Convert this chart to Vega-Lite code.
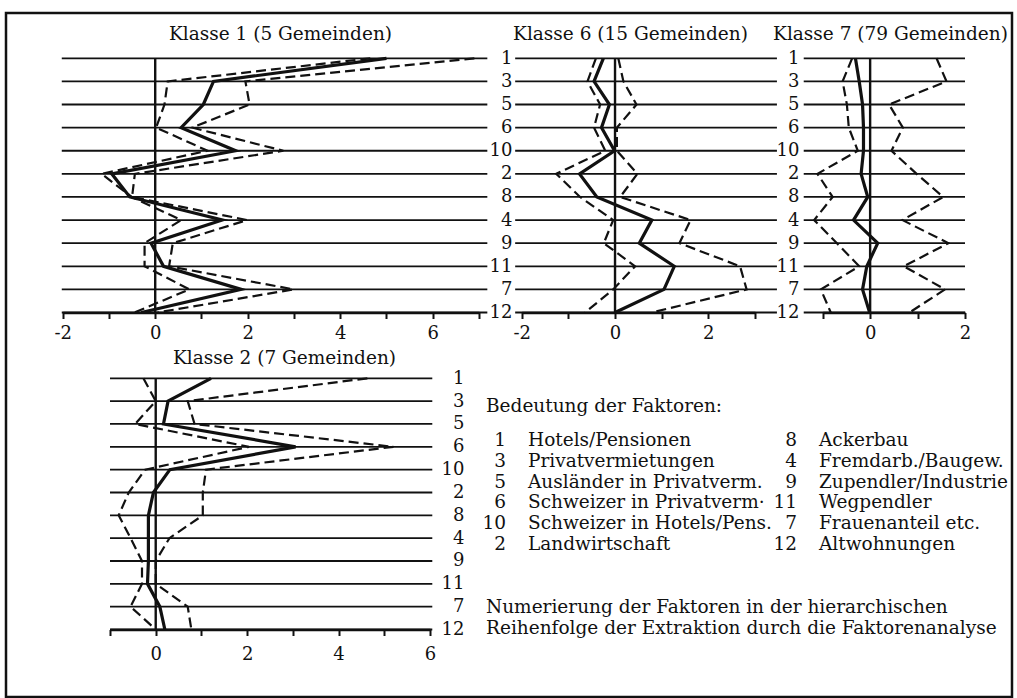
{
  "$schema": "https://vega.github.io/schema/vega-lite/v6.json",
  "width": 1006,
  "height": 684,
  "autosize": {"type": "none"},
  "padding": {"left": 6, "top": 13, "right": 5, "bottom": 1},
  "background": "white",
  "config": {
    "font": "DejaVu Serif",
    "view": {"stroke": "#111", "strokeWidth": 2.5},
    "axis": {
      "labelFont": "DejaVu Serif", "labelFontSize": 18, "labelColor": "#111",
      "titleFont": "DejaVu Serif", "titleFontSize": 18.5, "titleFontWeight": "normal", "titleColor": "#111",
      "domainColor": "#111", "domainWidth": 2.5, "tickColor": "#111", "tickWidth": 2, "tickSize": 6,
      "labelOverlap": false, "labelFlush": false, "labelBound": false, "grid": false
    },
    "text": {"font": "DejaVu Serif", "fontSize": 18.5, "color": "#111"}
  },
  "datasets": {
    "k1": [
      {"f":"1","i":1,"s":"m","v":5.0},{"f":"3","i":2,"s":"m","v":1.26},{"f":"5","i":3,"s":"m","v":1.04},{"f":"6","i":4,"s":"m","v":0.56},
      {"f":"10","i":5,"s":"m","v":1.74},{"f":"2","i":6,"s":"m","v":-0.94},{"f":"8","i":7,"s":"m","v":-0.55},{"f":"4","i":8,"s":"m","v":1.45},
      {"f":"9","i":9,"s":"m","v":-0.09},{"f":"11","i":10,"s":"m","v":0.18},{"f":"7","i":11,"s":"m","v":1.86},{"f":"12","i":12,"s":"m","v":-0.3},
      {"f":"1","i":1,"s":"lo","v":4.65},{"f":"3","i":2,"s":"lo","v":0.27},{"f":"5","i":3,"s":"lo","v":0.2},{"f":"6","i":4,"s":"lo","v":0.02},
      {"f":"10","i":5,"s":"lo","v":1.13},{"f":"2","i":6,"s":"lo","v":-1.16},{"f":"8","i":7,"s":"lo","v":-0.51},{"f":"4","i":8,"s":"lo","v":0.56},
      {"f":"9","i":9,"s":"lo","v":-0.23},{"f":"11","i":10,"s":"lo","v":-0.23},{"f":"7","i":11,"s":"lo","v":0.74},{"f":"12","i":12,"s":"lo","v":-0.45},
      {"f":"1","i":1,"s":"hi","v":6.9},{"f":"3","i":2,"s":"hi","v":1.95},{"f":"5","i":3,"s":"hi","v":2.04},{"f":"6","i":4,"s":"hi","v":0.8},
      {"f":"10","i":5,"s":"hi","v":2.77},{"f":"2","i":6,"s":"hi","v":-0.44},{"f":"8","i":7,"s":"hi","v":-0.5},{"f":"4","i":8,"s":"hi","v":1.99},
      {"f":"9","i":9,"s":"hi","v":0.38},{"f":"11","i":10,"s":"hi","v":0.3},{"f":"7","i":11,"s":"hi","v":2.99},{"f":"12","i":12,"s":"hi","v":0.05}
    ],
    "k6": [
      {"f":"1","i":1,"s":"m","v":-0.25},{"f":"3","i":2,"s":"m","v":-0.45},{"f":"5","i":3,"s":"m","v":-0.12},{"f":"6","i":4,"s":"m","v":-0.29},
      {"f":"10","i":5,"s":"m","v":-0.01},{"f":"2","i":6,"s":"m","v":-0.76},{"f":"8","i":7,"s":"m","v":-0.39},{"f":"4","i":8,"s":"m","v":0.79},
      {"f":"9","i":9,"s":"m","v":0.52},{"f":"11","i":10,"s":"m","v":1.27},{"f":"7","i":11,"s":"m","v":1.05},{"f":"12","i":12,"s":"m","v":0.0},
      {"f":"1","i":1,"s":"lo","v":-0.41},{"f":"3","i":2,"s":"lo","v":-0.59},{"f":"5","i":3,"s":"lo","v":-0.32},{"f":"6","i":4,"s":"lo","v":-0.45},
      {"f":"10","i":5,"s":"lo","v":-0.21},{"f":"2","i":6,"s":"lo","v":-1.26},{"f":"8","i":7,"s":"lo","v":-0.75},{"f":"4","i":8,"s":"lo","v":-0.04},
      {"f":"9","i":9,"s":"lo","v":-0.24},{"f":"11","i":10,"s":"lo","v":0.43},{"f":"7","i":11,"s":"lo","v":-0.04},{"f":"12","i":12,"s":"lo","v":-0.64},
      {"f":"1","i":1,"s":"hi","v":0.07},{"f":"3","i":2,"s":"hi","v":0.18},{"f":"5","i":3,"s":"hi","v":0.46},{"f":"6","i":4,"s":"hi","v":0.04},
      {"f":"10","i":5,"s":"hi","v":0.04},{"f":"2","i":6,"s":"hi","v":0.48},{"f":"8","i":7,"s":"hi","v":0.11},{"f":"4","i":8,"s":"hi","v":1.62},
      {"f":"9","i":9,"s":"hi","v":1.38},{"f":"11","i":10,"s":"hi","v":2.68},{"f":"7","i":11,"s":"hi","v":2.82},{"f":"12","i":12,"s":"hi","v":0.79}
    ],
    "k7": [
      {"f":"1","i":1,"s":"m","v":-0.31},{"f":"3","i":2,"s":"m","v":-0.23},{"f":"5","i":3,"s":"m","v":-0.16},{"f":"6","i":4,"s":"m","v":-0.14},
      {"f":"10","i":5,"s":"m","v":-0.14},{"f":"2","i":6,"s":"m","v":-0.19},{"f":"8","i":7,"s":"m","v":-0.05},{"f":"4","i":8,"s":"m","v":-0.35},
      {"f":"9","i":9,"s":"m","v":0.16},{"f":"11","i":10,"s":"m","v":-0.07},{"f":"7","i":11,"s":"m","v":-0.16},{"f":"12","i":12,"s":"m","v":-0.01},
      {"f":"1","i":1,"s":"lo","v":-0.38},{"f":"3","i":2,"s":"lo","v":-0.58},{"f":"5","i":3,"s":"lo","v":-0.49},{"f":"6","i":4,"s":"lo","v":-0.45},
      {"f":"10","i":5,"s":"lo","v":-0.26},{"f":"2","i":6,"s":"lo","v":-1.11},{"f":"8","i":7,"s":"lo","v":-0.79},{"f":"4","i":8,"s":"lo","v":-1.18},
      {"f":"9","i":9,"s":"lo","v":-0.7},{"f":"11","i":10,"s":"lo","v":-0.23},{"f":"7","i":11,"s":"lo","v":-1.04},{"f":"12","i":12,"s":"lo","v":-0.83},
      {"f":"1","i":1,"s":"hi","v":1.4},{"f":"3","i":2,"s":"hi","v":1.61},{"f":"5","i":3,"s":"hi","v":0.4},{"f":"6","i":4,"s":"hi","v":0.69},
      {"f":"10","i":5,"s":"hi","v":0.45},{"f":"2","i":6,"s":"hi","v":0.98},{"f":"8","i":7,"s":"hi","v":1.54},{"f":"4","i":8,"s":"hi","v":0.68},
      {"f":"9","i":9,"s":"hi","v":1.65},{"f":"11","i":10,"s":"hi","v":0.71},{"f":"7","i":11,"s":"hi","v":1.58},{"f":"12","i":12,"s":"hi","v":0.83}
    ],
    "k2": [
      {"f":"1","i":1,"s":"m","v":1.21},{"f":"3","i":2,"s":"m","v":0.27},{"f":"5","i":3,"s":"m","v":0.17},{"f":"6","i":4,"s":"m","v":3.06},
      {"f":"10","i":5,"s":"m","v":0.31},{"f":"2","i":6,"s":"m","v":-0.05},{"f":"8","i":7,"s":"m","v":-0.16},{"f":"4","i":8,"s":"m","v":-0.16},
      {"f":"9","i":9,"s":"m","v":-0.16},{"f":"11","i":10,"s":"m","v":-0.18},{"f":"7","i":11,"s":"m","v":0.09},{"f":"12","i":12,"s":"m","v":0.2},
      {"f":"1","i":1,"s":"lo","v":-0.27},{"f":"3","i":2,"s":"lo","v":0.0},{"f":"5","i":3,"s":"lo","v":-0.45},{"f":"6","i":4,"s":"lo","v":2.04},
      {"f":"10","i":5,"s":"lo","v":-0.23},{"f":"2","i":6,"s":"lo","v":-0.59},{"f":"8","i":7,"s":"lo","v":-0.81},{"f":"4","i":8,"s":"lo","v":-0.55},
      {"f":"9","i":9,"s":"lo","v":-0.3},{"f":"11","i":10,"s":"lo","v":-0.3},{"f":"7","i":11,"s":"lo","v":-0.55},{"f":"12","i":12,"s":"lo","v":0.0},
      {"f":"1","i":1,"s":"hi","v":4.63},{"f":"3","i":2,"s":"hi","v":0.7},{"f":"5","i":3,"s":"hi","v":0.85},{"f":"6","i":4,"s":"hi","v":5.2},
      {"f":"10","i":5,"s":"hi","v":1.1},{"f":"2","i":6,"s":"hi","v":1.03},{"f":"8","i":7,"s":"hi","v":1.03},{"f":"4","i":8,"s":"hi","v":0.3},
      {"f":"9","i":9,"s":"hi","v":0.0},{"f":"11","i":10,"s":"hi","v":0.0},{"f":"7","i":11,"s":"hi","v":0.7},{"f":"12","i":12,"s":"hi","v":0.78}
    ],
    "key": [
      {"c":"1","r":"1","n":"1","t":"Hotels/Pensionen"},
      {"c":"1","r":"2","n":"3","t":"Privatvermietungen"},
      {"c":"1","r":"3","n":"5","t":"Ausländer in Privatverm."},
      {"c":"1","r":"4","n":"6","t":"Schweizer in Privatverm·"},
      {"c":"1","r":"5","n":"10","t":"Schweizer in Hotels/Pens."},
      {"c":"1","r":"6","n":"2","t":"Landwirtschaft"},
      {"c":"2","r":"1","n":"8","t":"Ackerbau"},
      {"c":"2","r":"2","n":"4","t":"Fremdarb./Baugew."},
      {"c":"2","r":"3","n":"9","t":"Zupendler/Industrie"},
      {"c":"2","r":"4","n":"11","t":"Wegpendler"},
      {"c":"2","r":"5","n":"7","t":"Frauenanteil etc."},
      {"c":"2","r":"6","n":"12","t":"Altwohnungen"}
    ]
  },
  "layer": [
    {
      "data": {"name": "k1"},
      "encoding": {
        "x": {"field": "v", "type": "quantitative",
          "scale": {"domain": [-2, 7], "range": [56.7, 473], "nice": false, "zero": false},
          "axis": {"orient": "bottom", "offset": -384.5, "values": [-2,-1,0,1,2,3,4,5,6,7], "labelPadding": 6,
            "labelExpr": "datum.value % 2 === 0 ? '' + datum.value : ''",
            "title": "Klasse 1 (5 Gemeinden)", "titleX": 274, "titleY": -273.5, "titleAlign": "center", "titleBaseline": "alphabetic"}},
        "y": {"field": "f", "type": "ordinal",
          "scale": {"type": "point", "domain": ["1","3","5","6","10","2","8","4","9","11","7","12"], "range": [45.3, 299.5], "padding": 0},
          "axis": null}
      },
      "layer": [
        {"transform": [{"filter": "datum.s === 'm'"}], "mark": {"type": "rule", "stroke": "#111", "strokeWidth": 1.8},
          "encoding": {"x": {"datum": -2.02, "type": "quantitative",
            "axis": {"orient": "bottom", "offset": -384.5, "values": [-2,-1,0,1,2,3,4,5,6,7], "labelPadding": 6,
              "labelExpr": "datum.value % 2 === 0 ? '' + datum.value : ''",
              "title": "Klasse 1 (5 Gemeinden)", "titleX": 274, "titleY": -273.5, "titleAlign": "center", "titleBaseline": "alphabetic"}},
            "x2": {"datum": 7.18}}},
        {"transform": [{"filter": "datum.s === 'm' && datum.f === '1'"}], "mark": {"type": "rule", "stroke": "#111", "strokeWidth": 2.4},
          "encoding": {"x": {"datum": 0, "type": "quantitative",
            "axis": {"orient": "bottom", "offset": -384.5, "values": [-2,-1,0,1,2,3,4,5,6,7], "labelPadding": 6,
              "labelExpr": "datum.value % 2 === 0 ? '' + datum.value : ''",
              "title": "Klasse 1 (5 Gemeinden)", "titleX": 274, "titleY": -273.5, "titleAlign": "center", "titleBaseline": "alphabetic"}},
            "y": {"datum": "1", "type": "ordinal", "axis": null}, "y2": {"datum": "12"}}},
        {"transform": [{"filter": "datum.s !== 'm'"}], "mark": {"type": "line", "stroke": "#111", "strokeWidth": 2.2, "strokeDash": [10, 5]},
          "encoding": {"detail": {"field": "s"}, "order": {"field": "i", "type": "quantitative"}}},
        {"transform": [{"filter": "datum.s === 'm'"}], "mark": {"type": "line", "stroke": "#111", "strokeWidth": 3.2},
          "encoding": {"order": {"field": "i", "type": "quantitative"}}}
      ]
    },
    {
      "data": {"name": "k6"},
      "encoding": {
        "x": {"field": "v", "type": "quantitative",
          "scale": {"domain": [-2, 3], "range": [515.7, 749], "nice": false, "zero": false},
          "axis": {"orient": "bottom", "offset": -384.5, "values": [-2,-1,0,1,2,3], "labelPadding": 6,
            "labelExpr": "datum.value % 2 === 0 ? '' + datum.value : ''",
            "title": "Klasse 6 (15 Gemeinden)", "titleX": 624, "titleY": -273.5, "titleAlign": "center", "titleBaseline": "alphabetic"}},
        "y": {"field": "f", "type": "ordinal",
          "scale": {"type": "point", "domain": ["1","3","5","6","10","2","8","4","9","11","7","12"], "range": [45.3, 299.5], "padding": 0},
          "axis": {"orient": "left", "offset": -506, "ticks": false, "tickSize": 0, "domain": false, "labelPadding": 0, "labelAlign": "right", "title": null}}
      },
      "layer": [
        {"transform": [{"filter": "datum.s === 'm'"}], "mark": {"type": "rule", "stroke": "#111", "strokeWidth": 1.8},
          "encoding": {"x": {"datum": -2.14, "type": "quantitative",
            "axis": {"orient": "bottom", "offset": -384.5, "values": [-2,-1,0,1,2,3], "labelPadding": 6,
              "labelExpr": "datum.value % 2 === 0 ? '' + datum.value : ''",
              "title": "Klasse 6 (15 Gemeinden)", "titleX": 624, "titleY": -273.5, "titleAlign": "center", "titleBaseline": "alphabetic"}},
            "x2": {"datum": 3.47}}},
        {"transform": [{"filter": "datum.s === 'm' && datum.f === '1'"}], "mark": {"type": "rule", "stroke": "#111", "strokeWidth": 2.4},
          "encoding": {"x": {"datum": 0, "type": "quantitative",
            "axis": {"orient": "bottom", "offset": -384.5, "values": [-2,-1,0,1,2,3], "labelPadding": 6,
              "labelExpr": "datum.value % 2 === 0 ? '' + datum.value : ''",
              "title": "Klasse 6 (15 Gemeinden)", "titleX": 624, "titleY": -273.5, "titleAlign": "center", "titleBaseline": "alphabetic"}},
            "y": {"datum": "1", "type": "ordinal",
              "axis": {"orient": "left", "offset": -506, "ticks": false, "tickSize": 0, "domain": false, "labelPadding": 0, "labelAlign": "right", "title": null}},
            "y2": {"datum": "12"}}},
        {"transform": [{"filter": "datum.s !== 'm'"}], "mark": {"type": "line", "stroke": "#111", "strokeWidth": 2.2, "strokeDash": [10, 5]},
          "encoding": {"detail": {"field": "s"}, "order": {"field": "i", "type": "quantitative"}}},
        {"transform": [{"filter": "datum.s === 'm'"}], "mark": {"type": "line", "stroke": "#111", "strokeWidth": 3.2},
          "encoding": {"order": {"field": "i", "type": "quantitative"}}}
      ]
    },
    {
      "data": {"name": "k7"},
      "encoding": {
        "x": {"field": "v", "type": "quantitative",
          "scale": {"domain": [-1, 2], "range": [816.7, 959], "nice": false, "zero": false},
          "axis": {"orient": "bottom", "offset": -384.5, "values": [-1,0,1,2], "labelPadding": 6,
            "labelExpr": "datum.value % 2 === 0 ? '' + datum.value : ''",
            "title": "Klasse 7 (79 Gemeinden)", "titleX": 884, "titleY": -273.5, "titleAlign": "center", "titleBaseline": "alphabetic"}},
        "y": {"field": "f", "type": "ordinal",
          "scale": {"type": "point", "domain": ["1","3","5","6","10","2","8","4","9","11","7","12"], "range": [45.3, 299.5], "padding": 0},
          "axis": {"orient": "left", "offset": -793, "ticks": false, "tickSize": 0, "domain": false, "labelPadding": 0, "labelAlign": "right", "title": null}}
      },
      "layer": [
        {"transform": [{"filter": "datum.s === 'm'"}], "mark": {"type": "rule", "stroke": "#111", "strokeWidth": 1.8},
          "encoding": {"x": {"datum": -1.4, "type": "quantitative",
            "axis": {"orient": "bottom", "offset": -384.5, "values": [-1,0,1,2], "labelPadding": 6,
              "labelExpr": "datum.value % 2 === 0 ? '' + datum.value : ''",
              "title": "Klasse 7 (79 Gemeinden)", "titleX": 884, "titleY": -273.5, "titleAlign": "center", "titleBaseline": "alphabetic"}},
            "x2": {"datum": 2.0}}},
        {"transform": [{"filter": "datum.s === 'm' && datum.f === '1'"}], "mark": {"type": "rule", "stroke": "#111", "strokeWidth": 2.4},
          "encoding": {"x": {"datum": 0, "type": "quantitative",
            "axis": {"orient": "bottom", "offset": -384.5, "values": [-1,0,1,2], "labelPadding": 6,
              "labelExpr": "datum.value % 2 === 0 ? '' + datum.value : ''",
              "title": "Klasse 7 (79 Gemeinden)", "titleX": 884, "titleY": -273.5, "titleAlign": "center", "titleBaseline": "alphabetic"}},
            "y": {"datum": "1", "type": "ordinal",
              "axis": {"orient": "left", "offset": -793, "ticks": false, "tickSize": 0, "domain": false, "labelPadding": 0, "labelAlign": "right", "title": null}},
            "y2": {"datum": "12"}}},
        {"transform": [{"filter": "datum.s !== 'm'"}], "mark": {"type": "line", "stroke": "#111", "strokeWidth": 2.2, "strokeDash": [10, 5]},
          "encoding": {"detail": {"field": "s"}, "order": {"field": "i", "type": "quantitative"}}},
        {"transform": [{"filter": "datum.s === 'm'"}], "mark": {"type": "line", "stroke": "#111", "strokeWidth": 3.2},
          "encoding": {"order": {"field": "i", "type": "quantitative"}}}
      ]
    },
    {
      "data": {"name": "k2"},
      "encoding": {
        "x": {"field": "v", "type": "quantitative",
          "scale": {"domain": [-1, 6], "range": [104, 424], "nice": false, "zero": false},
          "axis": {"orient": "bottom", "offset": -67.5, "values": [-1,0,1,2,3,4,5,6], "labelPadding": 10,
            "labelExpr": "datum.value % 2 === 0 ? '' + datum.value : ''",
            "title": "Klasse 2 (7 Gemeinden)", "titleX": 278, "titleY": -266.2, "titleAlign": "center", "titleBaseline": "alphabetic"}},
        "y": {"field": "f", "type": "ordinal",
          "scale": {"type": "point", "domain": ["1","3","5","6","10","2","8","4","9","11","7","12"], "range": [365.3, 616.5], "padding": 0},
          "axis": {"orient": "right", "offset": -548, "ticks": false, "tickSize": 0, "domain": false, "labelPadding": 0, "labelAlign": "right", "title": null}}
      },
      "layer": [
        {"transform": [{"filter": "datum.s === 'm'"}], "mark": {"type": "rule", "stroke": "#111", "strokeWidth": 1.8},
          "encoding": {"x": {"datum": -1.0, "type": "quantitative",
            "axis": {"orient": "bottom", "offset": -67.5, "values": [-1,0,1,2,3,4,5,6], "labelPadding": 10,
              "labelExpr": "datum.value % 2 === 0 ? '' + datum.value : ''",
              "title": "Klasse 2 (7 Gemeinden)", "titleX": 278, "titleY": -266.2, "titleAlign": "center", "titleBaseline": "alphabetic"}},
            "x2": {"datum": 6.05}}},
        {"transform": [{"filter": "datum.s === 'm' && datum.f === '1'"}], "mark": {"type": "rule", "stroke": "#111", "strokeWidth": 2.4},
          "encoding": {"x": {"datum": 0, "type": "quantitative",
            "axis": {"orient": "bottom", "offset": -67.5, "values": [-1,0,1,2,3,4,5,6], "labelPadding": 10,
              "labelExpr": "datum.value % 2 === 0 ? '' + datum.value : ''",
              "title": "Klasse 2 (7 Gemeinden)", "titleX": 278, "titleY": -266.2, "titleAlign": "center", "titleBaseline": "alphabetic"}},
            "y": {"datum": "1", "type": "ordinal",
              "axis": {"orient": "right", "offset": -548, "ticks": false, "tickSize": 0, "domain": false, "labelPadding": 0, "labelAlign": "right", "title": null}},
            "y2": {"datum": "12"}}},
        {"transform": [{"filter": "datum.s !== 'm'"}], "mark": {"type": "line", "stroke": "#111", "strokeWidth": 2.2, "strokeDash": [10, 5]},
          "encoding": {"detail": {"field": "s"}, "order": {"field": "i", "type": "quantitative"}}},
        {"transform": [{"filter": "datum.s === 'm'"}], "mark": {"type": "line", "stroke": "#111", "strokeWidth": 3.2},
          "encoding": {"order": {"field": "i", "type": "quantitative"}}}
      ]
    },
    {
      "data": {"name": "key"},
      "encoding": {
        "x": {"field": "c", "type": "ordinal",
          "scale": {"type": "point", "domain": ["1","2"], "range": [500, 791], "padding": 0},
          "axis": {"orient": "bottom", "offset": 0, "labels": false, "ticks": false, "domain": false,
            "title": ["Numerierung der Faktoren in der hierarchischen", "Reihenfolge der Extraktion durch die Faktorenanalyse"],
            "titleX": 479.5, "titleY": -84.5, "titleAlign": "left", "titleBaseline": "alphabetic", "titleLineHeight": 20.8, "titleAngle": 0}},
        "y": {"field": "r", "type": "ordinal",
          "scale": {"type": "point", "domain": ["1","2","3","4","5","6"], "range": [433, 537], "padding": 0},
          "axis": {"orient": "left", "offset": 0, "labels": false, "ticks": false, "domain": false,
            "title": "Bedeutung der Faktoren:", "titleAngle": 0, "titleX": 479.5, "titleY": 398.7, "titleAlign": "left", "titleBaseline": "alphabetic"}}
      },
      "layer": [
        {"mark": {"type": "text", "align": "right", "baseline": "alphabetic", "font": "DejaVu Serif", "fontSize": 18.5, "color": "#111"},
          "encoding": {"text": {"field": "n"}}},
        {"mark": {"type": "text", "align": "left", "baseline": "alphabetic", "dx": 22, "font": "DejaVu Serif", "fontSize": 18.5, "color": "#111"},
          "encoding": {"text": {"field": "t"}}}
      ]
    }
  ],
  "resolve": {
    "scale": {"x": "independent", "y": "independent"},
    "axis": {"x": "independent", "y": "independent"}
  }
}
